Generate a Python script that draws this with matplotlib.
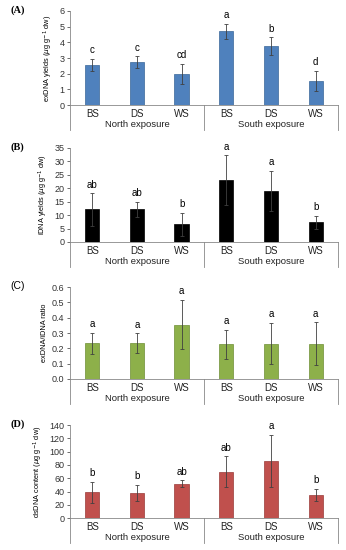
import numpy as np
import matplotlib
matplotlib.use('Agg')
import matplotlib.pyplot as plt

plt.rcParams['font.family'] = ['Liberation Sans', 'DejaVu Sans']

CATS = ['BS', 'DS', 'WS', 'BS', 'DS', 'WS']
GROUPS = ['North exposure', 'South exposure']

EX_VAL = [2.55, 2.72, 2.0, 4.72, 3.75, 1.55]
EX_ERR = [0.40, 0.38, 0.65, 0.48, 0.57, 0.65]
EX_LET = ['c', 'c', 'cd', 'a', 'b', 'd']

I_VAL = [12.1, 12.2, 6.6, 23.0, 18.9, 7.3]
I_ERR = [6.0, 2.8, 4.2, 9.2, 7.5, 2.5]
I_LET = ['ab', 'ab', 'b', 'a', 'a', 'b']

R_VAL = [0.232, 0.232, 0.355, 0.228, 0.23, 0.23]
R_ERR = [0.07, 0.065, 0.16, 0.095, 0.135, 0.14]
R_LET = ['a', 'a', 'a', 'a', 'a', 'a']

DS_VAL = [39, 38, 52, 70, 86, 35]
DS_ERR = [16, 12, 5, 23, 39, 9]
DS_LET = ['b', 'b', 'ab', 'ab', 'a', 'b']

panels = [
    ('(A)', EX_VAL, EX_ERR, EX_LET, '#4F81BD', '#3A6799', r'exDNA yields ($\mu$g g$^{-1}$ dw)',
     np.arange(0, 7, 1), '{:.0f}', [0.202, 0.809, 0.775, 0.171]),
    ('(B)', I_VAL, I_ERR, I_LET, '#000000', '#000000', r'iDNA yields ($\mu$g g$^{-1}$ dw)',
     np.arange(0, 36, 5), '{:.0f}', [0.202, 0.560, 0.775, 0.171]),
    ('(C)', R_VAL, R_ERR, R_LET, '#8DB04A', '#6E8F35', 'exDNA/iDNA ratio',
     np.arange(0, 0.61, 0.1), '{:.1f}', [0.202, 0.311, 0.775, 0.167]),
    ('(D)', DS_VAL, DS_ERR, DS_LET, '#C0504D', '#9A3B38', r'dsDNA content ($\mu$g g$^{-1}$ dw)',
     np.arange(0, 141, 20), '{:.0f}', [0.202, 0.058, 0.775, 0.169]),
]

fig = plt.figure(figsize=(3.46, 5.5), dpi=100)
fig.patch.set_facecolor('white')

x = np.arange(len(CATS))
for label, vals, errs, lets, color, edge, ylab, ticks, fmt, pos in panels:
    ax = fig.add_axes(pos)
    ax.bar(x, vals, width=0.32, color=color, edgecolor=edge, linewidth=0.5, zorder=2)
    ax.errorbar(x, vals, yerr=errs, fmt='none', ecolor='#404040',
                elinewidth=0.6, capsize=1.5, capthick=0.6, zorder=3)
    top = ticks[-1]
    for xi, v, e, t in zip(x, vals, errs, lets):
        ax.text(xi, v + e + top * 0.04, t, ha='center', va='bottom', fontsize=7)
    ax.set_xlim(-0.5, 5.5)
    ax.set_ylim(0, top)
    ax.set_yticks(ticks)
    ax.set_yticklabels([fmt.format(t) for t in ticks])
    ax.tick_params(axis='y', labelsize=6.5, length=2, width=0.5, pad=2, colors='#333333')
    ax.set_xticks(x)
    ax.set_xticklabels(CATS)
    ax.tick_params(axis='x', labelsize=7, length=0, pad=3, colors='#222222')
    for s in ['top', 'right']:
        ax.spines[s].set_visible(False)
    for s in ['left', 'bottom']:
        ax.spines[s].set_color('#888888')
        ax.spines[s].set_linewidth(0.6)
    ax.set_ylabel(ylab, fontsize=5.3, labelpad=3)
    for xs in [-0.5, 2.5, 5.5]:
        ax.plot([xs, xs], [0, -0.27], transform=ax.get_xaxis_transform(),
                color='#888888', lw=0.6, clip_on=False)
    for gi, g in enumerate(GROUPS):
        ax.text(1 + 3 * gi, -0.21, g, transform=ax.get_xaxis_transform(),
                ha='center', va='center', fontsize=6.8, color='#222222')
    if label == '(C)':
        fig.text(0.03, pos[1] + pos[3] + 0.002, label, fontsize=7.5, va='center')
    else:
        fig.text(0.03, pos[1] + pos[3] + 0.002, label, fontsize=7.5, va='center',
                 family='Liberation Serif', weight='bold')

fig.savefig('out.png', dpi=100, facecolor='white')
